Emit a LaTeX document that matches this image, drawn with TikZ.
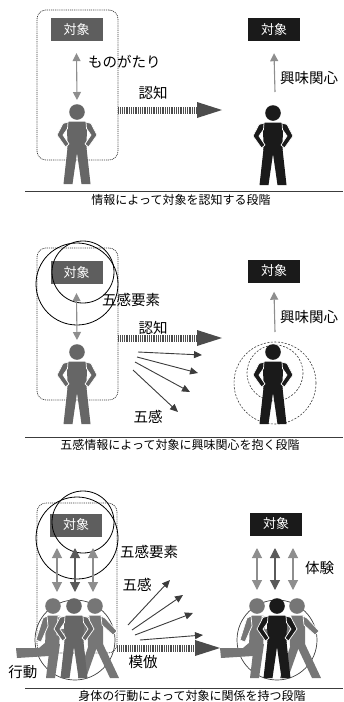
\documentclass[tikz,border=0pt]{standalone}
\usepackage{fontspec}
\setmainfont{Noto Sans CJK JP}
\usetikzlibrary{arrows.meta}

\definecolor{figgray}{HTML}{666666}
\definecolor{sidegray}{HTML}{767676}
\definecolor{boxgray}{HTML}{5E5E5E}
\definecolor{inkblack}{HTML}{1A1A1A}
\definecolor{arrgray}{HTML}{8E8E8E}
\definecolor{midgray}{HTML}{5A5A5A}
\definecolor{darkline}{HTML}{3C3C3C}
\definecolor{hatchc}{HTML}{4C4C4C}

\tikzset{
  figc/.store in=\figc, figc=figgray,
  armline/.style={draw=white, line width=0.7pt, line join=round},
  % standing figure, hands on hips; origin = top of the head
  stander/.pic={
    \fill[\figc] (-9.5,44) -- (0,44) -- (0,49) -- (-4.5,80) -- (-13.5,80) -- cycle;
    \fill[\figc] (9.5,44) -- (0,44) -- (0,49) -- (4.5,80) -- (13.5,80) -- cycle;
    \fill[\figc, rounded corners=2.5pt] (-10,17.5) -- (10,17.5) -- (9.5,47) -- (-9.5,47) -- cycle;
    \filldraw[fill=\figc, armline] (-9,18) -- (-14,19.5) -- (-20,31) -- (-11.5,43) -- (-8,40) -- (-14,31) -- (-9.5,24.5) -- cycle;
    \filldraw[fill=\figc, armline] (9,18) -- (14,19.5) -- (20,31) -- (11.5,43) -- (8,40) -- (14,31) -- (9.5,24.5) -- cycle;
    \fill[\figc] (0,8) circle[radius=7.8];
  },
  % running figure, back leg stretched out behind
  runner/.pic={
    \fill[\figc] (2,46) -- (-4,58) -- (-36,60) -- (-37,50) -- (-14,50) -- (-7,44) -- cycle;
    \fill[\figc] (-3,46) -- (7,46) -- (2,80) -- (-7,80) -- cycle;
    \fill[\figc, rounded corners=2.5pt] (-7,17.5) -- (8,17.5) -- (6,50) -- (-8,50) -- cycle;
    \filldraw[fill=\figc, armline] (-6,18) -- (-10,20) -- (-17,42) -- (-12,44) -- (-5,28) -- cycle;
    \filldraw[fill=\figc, armline] (5,18) -- (9,20) -- (8,31) -- (16,29) -- (16,35) -- (4,37) -- cycle;
    \fill[\figc] (0,8) circle[radius=7.8];
  },
  % walking figure, front arm swung forward
  walker/.pic={
    \fill[\figc] (-6,46) -- (3,46) -- (-9,80) -- (-17,80) -- cycle;
    \fill[\figc] (-1,46) -- (8,46) -- (24,80) -- (15,80) -- cycle;
    \fill[\figc, rounded corners=2.5pt] (-8,17.5) -- (8,17.5) -- (8,50) -- (-7,50) -- cycle;
    \filldraw[fill=\figc, armline] (-6,18) -- (-10,20) -- (-16,40) -- (-11,42) -- (-5,27) -- cycle;
    \filldraw[fill=\figc, armline] (6,18) -- (10,20) -- (22,33) -- (18,37) -- (7,27) -- cycle;
    \fill[\figc] (0,8) circle[radius=7.8];
  },
  objbox/.style={fill=boxgray, text=white, minimum width=52pt, minimum height=23pt,
    inner sep=0pt, font=\fontsize{13}{13}\selectfont},
  objboxk/.style={objbox, fill=inkblack},
  lbl/.style={inner sep=0pt, font=\fontsize{14.5}{15}\selectfont},
  captext/.style={inner sep=0pt, font=\fontsize{12}{12}\selectfont},
  frame/.style={draw=darkline, line width=0.75pt, dash pattern=on 1pt off 0.9pt,
    rounded corners=9pt, inner sep=0pt},
  dbl/.style={draw=arrgray, line width=1.1pt,
    {Triangle[length=8pt,width=8pt]}-{Triangle[length=8pt,width=8pt]}},
  dblbig/.style={draw=arrgray, line width=1.1pt,
    {Triangle[length=10pt,width=10pt]}-{Triangle[length=10pt,width=10pt]}},
  dblmid/.style={dblbig, draw=midgray},
  upar/.style={draw=arrgray, line width=1.1pt, -{Triangle[length=8pt,width=8pt]}},
  thinar/.style={draw=darkline, line width=0.9pt, -{Triangle[length=8pt,width=7pt]}},
  hatch/.style={draw=hatchc, line width=7pt, dash pattern=on 1.1pt off 0.7pt,
    -{Triangle[length=25pt,width=16pt,line width=0pt]}},
  ring/.style={draw=black, line width=0.8pt},
  dring/.style={draw=darkline, line width=0.6pt, dash pattern=on 2pt off 1.5pt},
  rule/.style={draw=darkline, line width=0.7pt},
}

\begin{document}
\begin{tikzpicture}[x=1pt, y=-1pt]
\useasboundingbox (0,0) rectangle (343,702);

% ---------- stage 1: recognising the object through information ----------
\node[frame, minimum width=81pt, minimum height=150pt] (fr1) at (77.5,85) {};
\node[objbox] (o1) at (76.5,29.5) {対象};
\coordinate (h1) at (77,104);
\pic at (h1) {stander};
\draw[dbl] ([yshift=-12pt]o1.south) -- ([yshift=4pt]h1);
\node[lbl, anchor=west] (story) at (88,62) {ものがたり};
\coordinate (t1) at (222,110);
\draw[hatch] (fr1.east |- t1) -- (t1);
\node[lbl] (rec1) at (153,93) {認知};

\node[objboxk] (o2) at (274,29.5) {対象};
\coordinate (h2) at (273,105);
\pic[figc=inkblack] at (h2) {stander};
\coordinate (u2) at (275,92);
\draw[upar] (u2) -- ([yshift=-12pt]o2.south);
\node[lbl, anchor=west] (int1) at (280,78) {興味関心};

\draw[rule] (25,191) -- (343,191);
\node[captext] (c1) at (181,200) {情報によって対象を認知する段階};

% ---------- stage 2: interest through the five senses ----------
\node[frame, minimum width=81pt, minimum height=152pt] (fr2) at (77.5,324) {};
\node[objbox] (o3) at (76.5,272.5) {対象};
\draw[ring] (77,284) circle[radius=41];
\draw[ring] (83,272) circle[radius=31];
\coordinate (h3) at (77,344);
\pic at (h3) {stander};
\draw[dbl] ([yshift=-9pt]o3.south) -- ([yshift=4pt]h3);
\node[lbl, anchor=west] (elem2) at (102,300) {五感要素};
\node[lbl] (rec2) at (153,328) {認知};
\coordinate (t2) at (222,338);
\draw[hatch] (fr2.east |- t2) -- (t2);

\coordinate (s2a) at (138,352); \coordinate (e2a) at (202,355);
\coordinate (s2b) at (137,357); \coordinate (e2b) at (198,373);
\coordinate (s2c) at (135,362); \coordinate (e2c) at (190,392);
\coordinate (s2d) at (133,370); \coordinate (e2d) at (178,412);
\draw[thinar] (s2a) -- (e2a);
\draw[thinar] (s2b) -- (e2b);
\draw[thinar] (s2c) -- (e2c);
\draw[thinar] (s2d) -- (e2d);
\node[lbl] (sense2) at (148,417) {五感};

\node[objboxk] (o4) at (274,271) {対象};
\draw[dring] (275,383) circle[radius=41];
\draw[dring] (275,373) circle[radius=28];
\coordinate (h4) at (273,344);
\pic[figc=inkblack] at (h4) {stander};
\coordinate (u4) at (275,332);
\draw[upar] (u4) -- ([yshift=-9pt]o4.south);
\node[lbl, anchor=west] (int2) at (280,317) {興味関心};

\draw[rule] (25,437) -- (343,437);
\node[captext] (c2) at (180,445) {五感情報によって対象に興味関心を抱く段階};

% ---------- stage 3: relating to the object through bodily action ----------
\node[frame, minimum width=80pt, minimum height=150pt] (fr3) at (77,578) {};
\node[objbox] (o5) at (76,525) {対象};
\draw[ring] (77,538) circle[radius=41];
\draw[ring] (83,522) circle[radius=31];
\coordinate (l5a) at (57,548); \coordinate (l5b) at (75,548); \coordinate (l5c) at (93,548);
\coordinate (m5a) at (57,592); \coordinate (m5b) at (75,592); \coordinate (m5c) at (93,592);
\draw[dblbig] (l5a) -- (m5a);
\draw[dblmid] (l5b) -- (m5b);
\draw[dblbig] (l5c) -- (m5c);
\node[lbl, anchor=west] (elem3) at (120,552) {五感要素};
\node[lbl] (sense3) at (137,585) {五感};

\draw[darkline, line width=0.7pt] (75,640) circle[radius=40];
\pic[figc=sidegray] at (53,598) {runner};
\pic[figc=sidegray] at (95,598) {walker};
\pic[figc=figgray] at (74,598) {stander};
\node[lbl] (act) at (23,672) {行動};

\coordinate (s3a) at (128,625); \coordinate (e3a) at (170,580);
\coordinate (s3b) at (132,630); \coordinate (e3b) at (183,595);
\coordinate (s3c) at (135,635); \coordinate (e3c) at (193,613);
\coordinate (s3d) at (140,640); \coordinate (e3d) at (203,635);
\draw[thinar] (s3a) -- (e3a);
\draw[thinar] (s3b) -- (e3b);
\draw[thinar] (s3c) -- (e3c);
\draw[thinar] (s3d) -- (e3d);
\coordinate (t3) at (220,648);
\draw[hatch] (fr3.east |- t3) -- (t3);
\node[lbl] (mimic) at (143,662) {模倣};

\node[objboxk] (o6) at (276,524) {対象};
\coordinate (l6a) at (257,548); \coordinate (l6b) at (275,548); \coordinate (l6c) at (293,548);
\coordinate (m6a) at (257,590); \coordinate (m6b) at (275,590); \coordinate (m6c) at (293,590);
\draw[dblbig] (l6a) -- (m6a);
\draw[dblmid] (l6b) -- (m6b);
\draw[dblbig] (l6c) -- (m6c);
\node[lbl, anchor=west] (exp) at (305,568) {体験};

\draw[darkline, line width=0.7pt] (277,640) circle[radius=40];
\pic[figc=sidegray] at (257,598) {runner};
\pic[figc=sidegray] at (297,598) {walker};
\pic[figc=inkblack] at (277,598) {stander};

\draw[rule] (25,688) -- (343,688);
\node[captext] (c3) at (192,696) {身体の行動によって対象に関係を持つ段階};
\end{tikzpicture}
\end{document}
